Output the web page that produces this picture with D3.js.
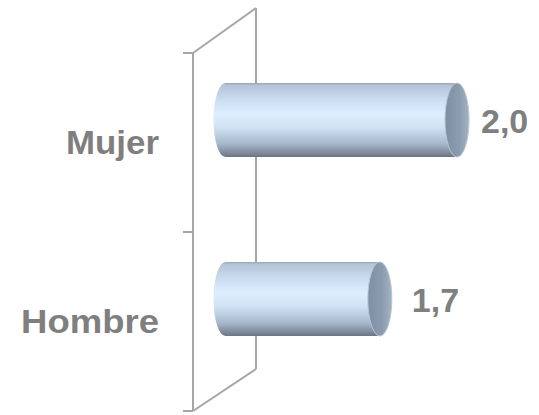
<!DOCTYPE html>
<html>
<head>
<meta charset="utf-8">
<script src="https://cdn.jsdelivr.net/npm/d3@7"></script>
<style>
html,body{margin:0;padding:0;background:#fff;}
svg{display:block;}
</style>
</head>
<body>
<script>
const categories = ["Mujer", "Hombre"];
const values = [2.0, 1.7];
const valueLabels = ["2,0", "1,7"];

const W = 539, H = 415;
const svg = d3.select("body").append("svg").attr("width", W).attr("height", H);

// front plane category scale
const y = d3.scaleBand().domain(categories).range([53, 411]);
const frontX = 193;
const depth = { dx: 63, dy: -45 };
const mid = { dx: depth.dx / 2, dy: depth.dy / 2 };

// value scale (at mid depth)
const x = d3.scaleLinear().domain([1.1, 2.0]).range([frontX + mid.dx + 1, 457]);

const wallColor = "#a6a6a6";
const wall = svg.append("g").attr("fill", "none").attr("stroke", wallColor).attr("stroke-width", 2);
const y0 = y.range()[0], y1 = y.range()[1];
wall.append("line").attr("x1", frontX).attr("x2", frontX).attr("y1", y0).attr("y2", y1);
wall.append("line").attr("x1", frontX + depth.dx).attr("x2", frontX + depth.dx).attr("y1", y0 + depth.dy).attr("y2", y1 + depth.dy + 3);
wall.append("line").attr("x1", frontX).attr("y1", y0).attr("x2", frontX + depth.dx).attr("y2", y0 + depth.dy);
wall.append("line").attr("x1", frontX).attr("y1", y1).attr("x2", frontX + depth.dx).attr("y2", y1 + depth.dy + 3);
// ticks
const tickYs = [y0].concat(categories.map(c => y(c) + y.bandwidth()));
wall.selectAll("line.tick").data(tickYs).enter().append("line").attr("class", "tick")
  .attr("x1", frontX - 10).attr("x2", frontX).attr("y1", d => d).attr("y2", d => d);

// gradients
const defs = svg.append("defs");
const g1 = defs.append("linearGradient").attr("id", "body").attr("x1", 0).attr("y1", 0).attr("x2", 0).attr("y2", 1);
[["0%", "#9aa3ad"], ["3%", "#b4c3d6"], ["20%", "#c9daee"], ["42%", "#dcefff"], ["60%", "#d0e2f4"], ["82%", "#a8b8cc"], ["95%", "#7d889a"], ["100%", "#6c7482"]]
  .forEach(s => g1.append("stop").attr("offset", s[0]).attr("stop-color", s[1]));
const g2 = defs.append("linearGradient").attr("id", "cap").attr("x1", 0).attr("y1", 0).attr("x2", 1).attr("y2", 0);
[["0%", "#7f8fa3"], ["60%", "#8c9cb0"], ["100%", "#a3b2c4"]]
  .forEach(s => g2.append("stop").attr("offset", s[0]).attr("stop-color", s[1]));

const font = "Liberation Sans, Arial, sans-serif";
const barH = 74, rx = 12, ry = barH / 2;
const data = categories.map((c, i) => ({ c, v: values[i], label: valueLabels[i] }));
const bars = svg.append("g");
data.forEach(d => {
  const cy = y(d.c) + y.bandwidth() / 2 + mid.dy;
  const xe = x(d.v);
  const xStart = x(x.domain()[0]);
  const p = `M${xStart},${cy - ry} L${xe},${cy - ry} L${xe},${cy + ry} L${xStart},${cy + ry} A${rx},${ry} 0 0 1 ${xStart},${cy - ry} Z`;
  bars.append("path").attr("d", p).attr("fill", "url(#body)");
  bars.append("ellipse").attr("cx", xe).attr("cy", cy).attr("rx", rx).attr("ry", ry)
    .attr("fill", "url(#cap)").attr("stroke", "#b9c6d4").attr("stroke-width", 1);
  svg.append("text").attr("x", xe + rx + (d.v >= 2 ? 12 : 20)).attr("y", cy + 13)
    .attr("font-family", font).attr("font-weight", "bold")
    .attr("font-size", 34).attr("fill", "#7f7f7f").text(d.label);
});

const catWidths = { "Mujer": 93, "Hombre": 138 };
svg.append("g").selectAll("text").data(categories).enter().append("text")
  .attr("x", 159).attr("y", d => y(d) + y.bandwidth() / 2 + 11)
  .attr("text-anchor", "end")
  .attr("textLength", d => catWidths[d]).attr("lengthAdjust", "spacingAndGlyphs")
  .attr("font-family", font).attr("font-weight", "bold")
  .attr("font-size", 33).attr("fill", "#7f7f7f").text(d => d);
</script>
</body>
</html>
